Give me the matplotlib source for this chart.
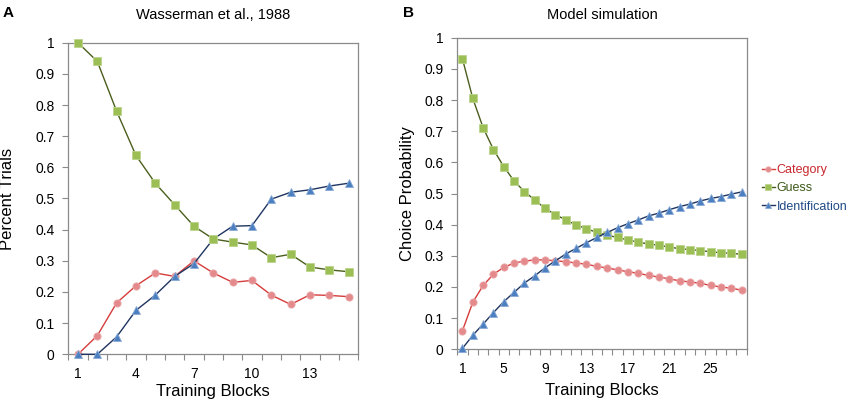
import matplotlib
matplotlib.use("Agg")
import matplotlib.pyplot as plt
import numpy as np

plt.rcParams['font.family'] = ['Liberation Sans', 'DejaVu Sans']

# ---- Data ----
blocks_a = list(range(1, 16))
guess_a = [1.0, 0.94, 0.78, 0.638, 0.549, 0.48, 0.411, 0.37, 0.36, 0.351, 0.31, 0.321, 0.28, 0.271, 0.265]
category_a = [0.0, 0.06, 0.165, 0.22, 0.261, 0.25, 0.30, 0.261, 0.231, 0.237, 0.19, 0.16, 0.191, 0.189, 0.185]
ident_a = [0.0, 0.0, 0.056, 0.141, 0.19, 0.25, 0.291, 0.37, 0.411, 0.413, 0.498, 0.52, 0.528, 0.54, 0.549]

blocks_b = list(range(1, 29))
guess_b = [0.932, 0.805, 0.711, 0.641, 0.586, 0.540, 0.506, 0.479, 0.452, 0.432, 0.415, 0.399,
           0.387, 0.375, 0.366, 0.359, 0.351, 0.344, 0.338, 0.334, 0.328, 0.323, 0.320, 0.317,
           0.313, 0.310, 0.308, 0.305]
category_b = [0.060, 0.151, 0.205, 0.241, 0.263, 0.277, 0.283, 0.287, 0.287, 0.284, 0.281, 0.277,
              0.273, 0.266, 0.261, 0.255, 0.249, 0.244, 0.237, 0.232, 0.226, 0.220, 0.216, 0.212,
              0.205, 0.200, 0.196, 0.190]
ident_b = [0.003, 0.045, 0.081, 0.118, 0.153, 0.183, 0.213, 0.236, 0.262, 0.284, 0.306, 0.324,
           0.342, 0.359, 0.375, 0.390, 0.403, 0.415, 0.428, 0.437, 0.448, 0.458, 0.466, 0.476,
           0.484, 0.490, 0.498, 0.505]

xticks_a = [1, 4, 7, 10, 13]
xticks_b = [1, 5, 9, 13, 17, 21, 25]
yticks = [0, 0.1, 0.2, 0.3, 0.4, 0.5, 0.6, 0.7, 0.8, 0.9, 1]
ytick_labels = ['0', '0.1', '0.2', '0.3', '0.4', '0.5', '0.6', '0.7', '0.8', '0.9', '1']
series_names = ['Category', 'Guess', 'Identification']

# ---- Styles ----
styles = {
    'Category': dict(color='#d63c3c', marker='o', mfc='#e48a8c', mec='#eaa6a8'),
    'Guess': dict(color='#4a5e1e', marker='s', mfc='#9bbf55', mec='#bcd48e'),
    'Identification': dict(color='#1f3560', marker='^', mfc='#4b7fc0', mec='#8aaad6'),
}
text_colors = {'Category': '#c8282e', 'Guess': '#3d5a1a', 'Identification': '#1f4a86'}
spine_col = '#8a8a8a'

W, H = 850, 399
fig = plt.figure(figsize=(W / 100, H / 100), dpi=100)


def px_rect(l, r, t, b):
    return [l / W, (H - b) / H, (r - l) / W, (b - t) / H]


ax1 = fig.add_axes(px_rect(68.3, 358.3, 42.7, 354.3))
ax2 = fig.add_axes(px_rect(457.3, 746.7, 37.7, 349.3))


def draw(ax, x, data, nmax, xticks, ylabel, xlabelpad):
    lines = []
    for name, y in data:
        st = styles[name]
        ln, = ax.plot(x, y, color=st['color'], lw=1.0, marker=st['marker'],
                      markerfacecolor=st['mfc'], markeredgecolor=st['mec'],
                      markeredgewidth=0.6, markersize=5.2 if st['marker'] != '^' else 5.8,
                      label=name, clip_on=False, zorder=3)
        lines.append(ln)
    ax.set_xlim(0.5, nmax + 0.5)
    ax.set_ylim(0, 1)
    ax.set_xticks(xticks)
    ax.set_xticklabels([str(v) for v in xticks])
    ax.set_xticks(np.arange(0.5, nmax + 1, 1.0), minor=True)
    ax.tick_params(axis='x', which='major', length=0, pad=9, labelsize=10)
    ax.tick_params(axis='x', which='minor', length=4, width=0.8, color=spine_col, direction='out')
    ax.set_yticks(yticks)
    ax.set_yticklabels(ytick_labels)
    ax.tick_params(axis='y', which='major', length=4, width=0.8, color=spine_col,
                   direction='out', pad=6, labelsize=10)
    for s in ax.spines.values():
        s.set_color(spine_col)
        s.set_linewidth(0.9)
    ax.set_xlabel('Training Blocks', fontsize=12, labelpad=xlabelpad)
    ax.set_ylabel(ylabel, fontsize=12)
    return lines


draw(ax1, blocks_a, [('Category', category_a), ('Identification', ident_a), ('Guess', guess_a)],
     len(blocks_a), xticks_a, 'Percent Trials', 2)
lines_b = draw(ax2, blocks_b, [('Category', category_b), ('Guess', guess_b), ('Identification', ident_b)],
               len(blocks_b), xticks_b, 'Choice Probability', 5)

ax1.yaxis.set_label_coords((15 - 68.3) / 290.0, 0.5)
ax2.yaxis.set_label_coords((415 - 457.3) / 289.4, 0.5)

fig.text(213.3 / W, 1 - 15 / H, 'Wasserman et al., 1988', ha='center', va='center', fontsize=10.5)
fig.text(602 / W, 1 - 15 / H, 'Model simulation', ha='center', va='center', fontsize=10.5)
fig.text(3 / W, 1 - 13 / H, 'A', ha='left', va='center', fontsize=11, fontweight='bold')
fig.text(403 / W, 1 - 13 / H, 'B', ha='left', va='center', fontsize=11, fontweight='bold')

leg = fig.legend(handles=lines_b, labels=series_names, loc='upper left',
                 bbox_to_anchor=(762 / W, 1 - 164 / H), frameon=False,
                 fontsize=9, handlelength=1.0, handletextpad=0.15, labelspacing=0.5,
                 borderaxespad=0, borderpad=0, markerscale=0.75)
for txt, name in zip(leg.get_texts(), series_names):
    txt.set_color(text_colors[name])

fig.savefig('out.png', dpi=100, facecolor='white')
